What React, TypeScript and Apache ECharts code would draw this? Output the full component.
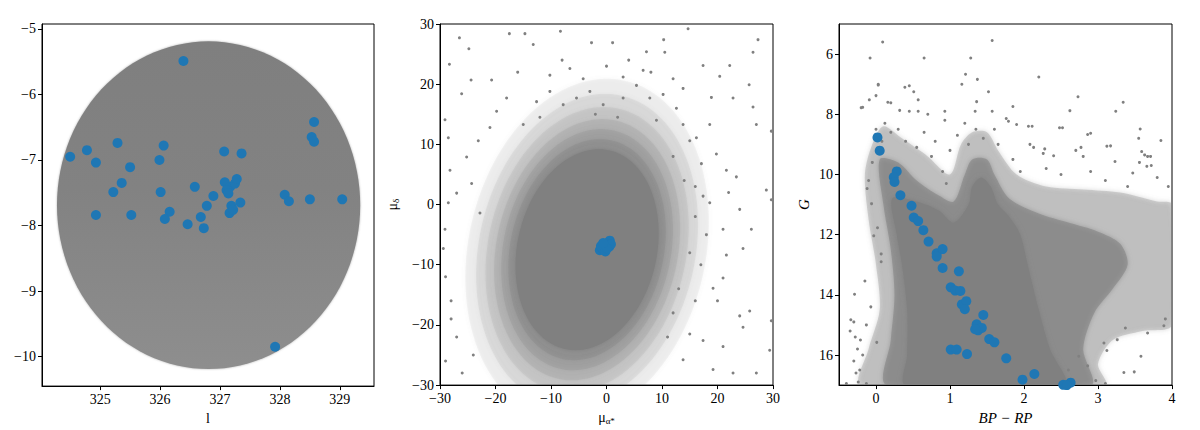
import React, { useEffect, useRef } from "react";
import * as echarts from "echarts";

// ---------- Panel 1: sky positions (l, b) ----------
const fieldCenter = [326.81, -7.69];
const fieldRadius = [2.53, 2.5];
const memberL = [326.39, 328.57, 328.53, 328.57, 324.5, 324.78, 325.29, 326.06, 324.93, 325.5, 325.99, 327.07, 327.36, 325.36, 325.22, 326.01, 326.58, 326.89, 327.08, 327.17, 327.25, 327.28, 327.11, 327.14, 326.78, 327.19, 327.34, 327.16, 328.08, 328.15, 328.5, 329.04, 324.93, 325.52, 326.16, 326.08, 326.46, 326.68, 326.73, 327.92, 327.22];
const memberB = [-5.49, -6.42, -6.65, -6.72, -6.95, -6.85, -6.74, -6.78, -7.04, -7.11, -7.0, -6.87, -6.9, -7.35, -7.49, -7.49, -7.41, -7.55, -7.34, -7.41, -7.36, -7.29, -7.46, -7.51, -7.7, -7.7, -7.65, -7.81, -7.53, -7.63, -7.6, -7.6, -7.84, -7.84, -7.79, -7.9, -7.98, -7.87, -8.04, -9.85, -7.76];
const lTicks = [325, 326, 327, 328, 329];
const bTicks = [-10, -9, -8, -7, -6, -5];

// ---------- Panel 2: proper motions ----------
const pmCloudCenter = [-3.5, -7.5];
const pmCloudAxes = [12.5, 17];
const pmCloudTilt = 16;
const pmCloudScales = [1.7, 1.55, 1.42, 1.3, 1.2, 1.1, 1.0];
const pmCloudOpacity = [0.08, 0.1, 0.12, 0.15, 0.2, 0.3, 1];
const pmFieldSparse = [[-28.3,23.3],[-26.5,27.7],[-26.1,18.4],[-24.8,25.9],[-24.4,20.7],[-20.7,20.7],[-17.5,28.4],[-14.7,28.4],[-13.2,26.6],[-8.3,28.8],[-6.6,22.6],[-2.7,26.9],[1.1,26.9],[7.2,25.4],[10.3,27.4],[10.5,25.3],[14.7,29.2],[27.3,27.4],[26.4,25.3],[22.2,23.1],[20.4,21.3],[25.7,19.9],[17.4,23.1],[18.9,17.8],[22.8,17.7],[26.4,16.2],[27.0,13.3],[29.7,12.2],[28.8,2.4],[29.7,0.8],[29.7,-19.3],[29.4,-24.2],[27.0,-28.0],[24.6,-20.4],[24.0,-18.5],[25.8,-17.7],[21.0,-12.2],[19.2,-13.9],[21.6,-8.4],[24.6,-7.3],[26.1,-4.1],[21.0,-4.1],[24.0,-0.8],[17.4,1.4],[18.6,0.3],[21.6,5.7],[23.4,4.6],[17.1,6.8],[19.8,8.4],[18.6,13.3],[15.0,10.6],[21.0,-23.6],[17.4,-22.6],[19.2,-27.4],[22.8,-28.0],[15.0,-21.5],[13.8,-25.8],[-29.1,14.1],[-28.5,11.1],[-28.2,5.7],[-28.5,0.3],[-29.1,-4.1],[-27.0,1.9],[-25.2,7.9],[-23.1,10.6],[-21.0,12.8],[-24.3,3.5],[-19.8,15.5],[-18.0,17.7],[-22.8,-1.4],[-29.4,-7.3],[-12.6,17.1],[-10.2,18.8],[-7.8,16.6],[-5.4,17.7],[-3.0,18.8],[-0.6,16.6],[3.0,17.7],[5.4,19.8],[7.8,17.7],[10.2,18.3],[12.6,16.0],[13.8,19.3],[-10.2,21.5],[-4.2,20.9],[3.0,21.2],[6.6,22.3],[12.0,20.9],[-15.0,13.3],[13.8,13.3],[16.2,11.1],[14,4],[16,-2],[15,-8],[17,-10],[13,-14],[16,-16],[12,-18],[11,-22],[20,-16],[18,-5],[22,2],[12,8],[16,3],[-16,22],[-8,24],[0,23],[4,24],[8,22],[-12,14.5],[2,14.5],[9,14],[-2,15],[-29,-12],[-28,-16],[-27,-22],[-29,-26],[-26,-28],[-24,-25],[-28,-19]];
const memberPmra = [-1.2, -0.8, -0.3, 0.3, 0.6, 0.2, -0.5, 0.5, -1.0, 0.0, 0.8, -0.2, 0.1, -0.6];
const memberPmdec = [-7.6, -7.2, -6.8, -6.3, -6.0, -6.9, -7.5, -7.0, -6.9, -6.5, -6.6, -7.8, -7.3, -6.4];
const pmTicks = [-30, -20, -10, 0, 10, 20, 30];

// ---------- Panel 3: colour-magnitude diagram ----------
const cmdOuter = [[-0.05,9.0],[0.1,8.4],[0.35,8.8],[0.7,9.4],[1.0,10.0],[1.15,9.0],[1.3,8.6],[1.5,8.6],[1.65,9.2],[1.9,10.0],[2.3,10.4],[2.8,10.5],[3.3,10.6],[3.8,10.9],[4.0,11.0],[4.0,15.0],[3.6,15.2],[3.2,15.5],[3.0,16.3],[3.1,17.0],[-0.2,17.0],[-0.1,15.8],[0.05,14.5],[0.0,13.0],[-0.1,11.5],[-0.15,10.0]];
const cmdMid = [[0.05,9.5],[0.3,9.6],[0.55,10.2],[0.85,10.7],[1.05,10.9],[1.2,10.0],[1.3,9.5],[1.5,9.5],[1.6,10.0],[1.8,10.8],[2.2,11.3],[2.6,11.6],[3.0,11.9],[3.3,12.3],[3.4,13.0],[3.2,13.8],[2.95,14.6],[2.8,15.8],[2.9,17.0],[0.15,17.0],[0.2,15.5],[0.25,14.0],[0.2,12.5],[0.1,11.0]];
const cmdCore = [[0.22,10.8],[0.55,10.9],[0.85,11.2],[1.05,11.6],[1.25,11.0],[1.3,10.4],[1.42,10.1],[1.55,10.4],[1.65,11.0],[1.8,11.4],[1.95,12.0],[2.05,13.0],[2.2,14.5],[2.35,15.8],[2.55,17.0],[0.4,17.0],[0.42,16.0],[0.42,14.5],[0.35,13.0],[0.28,12.0]];
const cmdLayers = [cmdOuter, cmdMid, cmdCore];
const cmdLayerOpacity = [0.3, 0.55, 1];
const cmdFieldSparse = [[0.09,5.6],[-0.08,6.13],[0.65,6.13],[1.28,6.13],[1.57,5.55],[1.21,6.67],[1.16,7.0],[1.37,6.84],[0.39,7.1],[0.45,7.05],[0.51,7.25],[0.03,7.0],[0.0,7.38],[-0.09,7.52],[-0.18,7.77],[0.57,7.52],[0.16,7.6],[0.2,7.62],[0.32,7.87],[0.45,7.9],[0.57,7.9],[0.7,8.0],[0.93,7.9],[0.93,8.2],[1.36,7.58],[1.34,7.9],[1.57,7.9],[1.52,7.25],[1.79,8.23],[2.2,6.76],[2.73,7.42],[1.85,7.74],[1.76,8.14],[2.62,7.88],[3.24,7.9],[3.34,7.6],[1.9,8.34],[2.06,8.4],[2.11,8.4],[2.48,8.45],[2.52,8.45],[2.86,8.67],[2.9,8.63],[3.57,8.49],[3.55,8.8],[3.85,8.87],[3.12,9.06],[3.17,9.05],[3.59,9.24],[3.63,9.35],[3.67,9.4],[3.71,9.4],[2.08,9.0],[2.13,9.1],[2.28,9.15],[2.7,9.2],[2.77,9.1],[2.8,9.4],[2.26,9.3],[2.4,9.38],[3.56,9.6],[3.66,9.73],[3.72,9.7],[3.23,9.57],[3.47,9.95],[-0.34,14.83],[-0.3,14.9],[-0.29,13.98],[-0.15,13.54],[-0.35,15.2],[-0.13,15.0],[0.01,15.58],[-0.25,15.8],[-0.21,15.5],[-0.03,12.04],[0.02,11.77],[0.07,12.64],[-0.07,14.4],[-0.27,16.6],[-0.22,16.5],[-0.24,16.9],[-0.13,16.95],[0.07,12.9],[-0.06,10.97],[-0.12,10.47],[-0.2,7.78],[0.03,7.03],[3.49,16.56],[3.58,16.04],[3.26,15.49],[3.67,15.27],[3.89,15.03],[3.91,14.8],[3.37,15.1],[3.08,15.6],[3.12,15.85],[3.35,16.58],[2.74,16.04],[2.86,16.36],[2.97,16.85],[3.1,16.95],[2.6,16.5],[0.12,8.3],[0.2,8.6],[0.3,8.5],[0.4,8.9],[0.55,9.1],[0.08,8.9],[0.65,8.6],[0.8,8.9],[0.75,9.4],[1.0,9.2],[1.1,8.7],[1.2,8.3],[1.35,8.5],[1.45,8.8],[1.25,9.0],[1.6,8.5],[1.65,9.0],[1.85,9.5],[1.95,9.9],[2.3,9.8],[2.5,10.0],[2.9,9.9],[3.1,10.2],[3.8,10.1],[3.95,10.4],[3.4,10.4],[0.9,9.9],[0.95,10.3],[-0.05,9.6],[-0.1,10.2],[0.0,8.5],[-0.3,16.2],[-0.18,16.0],[-0.4,16.95],[-0.28,15.4]];
const memberColor = [0.02, 0.05, 0.28, 0.24, 0.25, 0.33, 0.48, 0.51, 0.57, 0.64, 0.71, 0.82, 0.9, 0.82, 0.9, 1.12, 1.01, 1.07, 1.14, 1.16, 1.22, 1.2, 1.45, 1.36, 1.38, 1.43, 1.34, 1.53, 1.6, 1.76, 1.01, 1.09, 1.23, 1.98, 2.14, 2.53, 2.63, 2.58];
const memberG = [8.77, 9.21, 9.9, 10.09, 10.25, 10.69, 11.04, 11.43, 11.55, 11.85, 12.23, 12.62, 12.48, 12.73, 13.11, 13.22, 13.75, 13.86, 13.87, 14.32, 14.21, 14.48, 14.67, 14.98, 15.18, 15.1, 15.14, 15.47, 15.58, 16.11, 15.82, 15.82, 15.97, 16.82, 16.63, 16.99, 16.92, 17.0];
const colorTicks = [0, 1, 2, 3, 4];
const gTicks = [6, 8, 10, 12, 14, 16];

const FONT = "Liberation Serif";
const BLUE = "#1f77b4";
const GREY = "#808080";

const fmt = (v: number) => (v < 0 ? "\u2212" + Math.abs(v) : String(v));

function ellipsePts(api: any, c: number[], ax: number[], tiltDeg: number, s: number) {
  const th = (tiltDeg * Math.PI) / 180;
  const pts: number[][] = [];
  for (let i = 0; i < 120; i++) {
    const t = (i / 120) * Math.PI * 2;
    const u = ax[0] * s * Math.cos(t);
    const v = ax[1] * s * Math.sin(t);
    const x = c[0] + u * Math.cos(th) + v * Math.sin(th);
    const y = c[1] - u * Math.sin(th) + v * Math.cos(th);
    pts.push(api.coord([x, y]));
  }
  return pts;
}

function axisBase(ticks: number[], extra: any = {}) {
  return {
    type: "value",
    splitLine: { show: false },
    axisLine: { show: true, onZero: false, lineStyle: { color: "#000", width: 1 } },
    axisTick: { show: true, inside: false, length: 4, customValues: ticks, lineStyle: { color: "#000" } },
    axisLabel: { customValues: ticks, formatter: fmt, color: "#000", fontFamily: FONT, fontSize: 14, margin: 6 },
    ...extra,
  };
}

export default function App() {
  const ref = useRef<HTMLDivElement>(null);
  useEffect(() => {
    if (!ref.current) return;
    const chart = echarts.init(ref.current, undefined, { renderer: "svg" });
    const gridStyle = { show: true, borderColor: "#000", borderWidth: 1, backgroundColor: "transparent", containLabel: false };
    const option: any = {
      animation: false,
      backgroundColor: "#fff",
      grid: [
        { ...gridStyle, left: 42, top: 24, width: 332, height: 368 },
        { ...gridStyle, left: 440, top: 24, width: 333, height: 368 },
        { ...gridStyle, left: 839, top: 24, width: 333, height: 368 },
      ],
      xAxis: [
        axisBase(lTicks, { gridIndex: 0, min: 324.03, max: 329.57, name: "l", nameLocation: "middle", nameGap: 22, nameTextStyle: { fontFamily: FONT, fontSize: 14, color: "#000" } }),
        axisBase(pmTicks, { gridIndex: 1, min: -30, max: 30, interval: 10, name: "{m|μ}{s|α*}", nameLocation: "middle", nameGap: 22, nameTextStyle: { color: "#000", rich: { m: { fontFamily: FONT, fontSize: 14 }, s: { fontFamily: FONT, fontSize: 9, padding: [7, 0, 0, 0] } } } }),
        axisBase(colorTicks, { gridIndex: 2, min: -0.5, max: 4, name: "BP − RP", nameLocation: "middle", nameGap: 22, nameTextStyle: { fontFamily: FONT, fontSize: 15, fontStyle: "italic", color: "#000" } }),
      ],
      yAxis: [
        axisBase(bTicks, { gridIndex: 0, min: -10.45, max: -4.925 }),
        axisBase(pmTicks, { gridIndex: 1, min: -30, max: 30, interval: 10, name: "{m|μ}{s|δ}", nameLocation: "middle", nameRotate: 90, nameGap: 40, nameTextStyle: { color: "#000", rich: { m: { fontFamily: FONT, fontSize: 14 }, s: { fontFamily: FONT, fontSize: 9, padding: [7, 0, 0, 0] } } } }),
        axisBase(gTicks, { gridIndex: 2, min: 5, max: 17, inverse: true, name: "G", nameLocation: "middle", nameRotate: 90, nameGap: 28, nameTextStyle: { fontFamily: FONT, fontSize: 15, fontStyle: "italic", color: "#000" } }),
      ],
      series: [
        {
          type: "custom",
          xAxisIndex: 0,
          yAxisIndex: 0,
          clip: true,
          silent: true,
          z: 1,
          data: [fieldCenter],
          renderItem: (_p: any, api: any) => ({
            type: "polygon",
            shape: { points: ellipsePts(api, fieldCenter, fieldRadius, 0, 1) },
            style: {
              fill: new echarts.graphic.LinearGradient(0, 0, 0, 1, [
                { offset: 0, color: "#7f7f7f" },
                { offset: 0.45, color: "#828282" },
                { offset: 1, color: "#8e8e8e" },
              ]),
              shadowBlur: 2,
              shadowColor: "rgba(128,128,128,0.6)",
            },
          }),
        },
        {
          type: "scatter",
          xAxisIndex: 0,
          yAxisIndex: 0,
          z: 3,
          symbolSize: 10,
          itemStyle: { color: BLUE, opacity: 1 },
          data: memberL.map((l, i) => [l, memberB[i]]),
        },
        {
          type: "custom",
          xAxisIndex: 1,
          yAxisIndex: 1,
          clip: true,
          silent: true,
          z: 1,
          data: pmCloudScales.map((s) => [pmCloudCenter[0], pmCloudCenter[1], s]),
          renderItem: (p: any, api: any) => ({
            type: "polygon",
            shape: { points: ellipsePts(api, pmCloudCenter, pmCloudAxes, pmCloudTilt, api.value(2)) },
            style: { fill: GREY, opacity: pmCloudOpacity[p.dataIndex], shadowBlur: 4, shadowColor: GREY },
          }),
        },
        {
          type: "scatter",
          xAxisIndex: 1,
          yAxisIndex: 1,
          z: 2,
          symbolSize: 3,
          itemStyle: { color: GREY, opacity: 1 },
          data: pmFieldSparse,
        },
        {
          type: "scatter",
          xAxisIndex: 1,
          yAxisIndex: 1,
          z: 3,
          symbolSize: 10,
          itemStyle: { color: BLUE, opacity: 1 },
          data: memberPmra.map((x, i) => [x, memberPmdec[i]]),
        },
        {
          type: "custom",
          xAxisIndex: 2,
          yAxisIndex: 2,
          clip: true,
          silent: true,
          z: 1,
          data: cmdLayers.map((poly, i) => [poly[0][0], poly[0][1], i]),
          renderItem: (p: any, api: any) => ({
            type: "polygon",
            shape: { points: cmdLayers[p.dataIndex].map((v) => api.coord(v)), smooth: 0.3 },
            style: { fill: GREY, opacity: cmdLayerOpacity[p.dataIndex], shadowBlur: 5, shadowColor: GREY },
          }),
        },
        {
          type: "scatter",
          xAxisIndex: 2,
          yAxisIndex: 2,
          z: 2,
          symbolSize: 3,
          itemStyle: { color: GREY, opacity: 1 },
          data: cmdFieldSparse,
        },
        {
          type: "scatter",
          xAxisIndex: 2,
          yAxisIndex: 2,
          z: 3,
          symbolSize: 10,
          itemStyle: { color: BLUE, opacity: 1 },
          data: memberColor.map((c, i) => [c, memberG[i]]),
        },
      ],
    };
    chart.setOption(option);
    return () => chart.dispose();
  }, []);
  return <div ref={ref} style={{ position: "fixed", left: 0, top: 0, width: 1200, height: 430 }} />;
}
